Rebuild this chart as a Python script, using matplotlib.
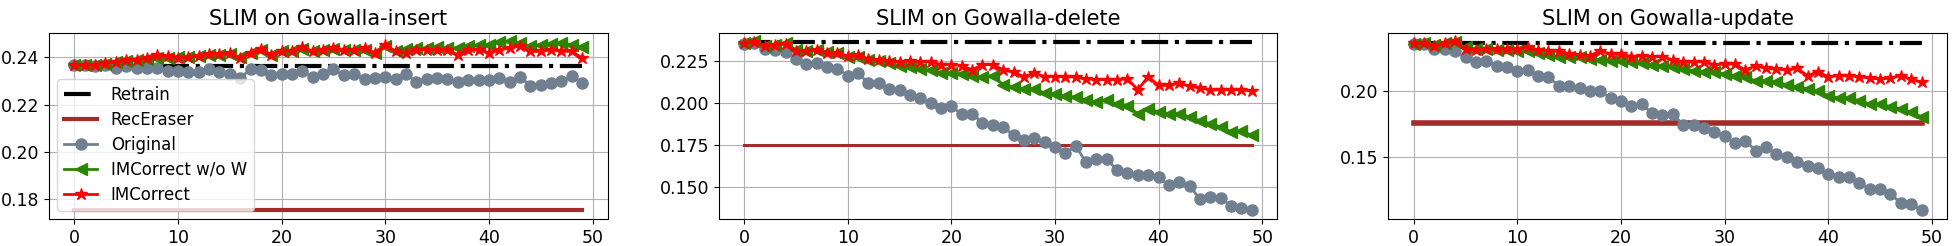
import numpy as np
import matplotlib
matplotlib.use('Agg')
from matplotlib import pyplot as plt

epochs = list(range(50))
titles = ['SLIM on Gowalla-insert', 'SLIM on Gowalla-delete', 'SLIM on Gowalla-update']

retrain = [0.2363, 0.2362, 0.2362]
receraser = [0.1753, 0.1754, 0.1755]

# insert
orig_ins = [0.2367, 0.2367, 0.2365, 0.2368, 0.2353, 0.2363, 0.2356, 0.2353, 0.2356, 0.2342,
            0.2340, 0.2338, 0.2339, 0.2349, 0.2339, 0.2331, 0.2313, 0.2349, 0.2345, 0.2324,
            0.2328, 0.2331, 0.2342, 0.2316, 0.2329, 0.2349, 0.2324, 0.2331, 0.2307, 0.2313,
            0.2318, 0.2307, 0.2331, 0.2296, 0.2310, 0.2313, 0.2307, 0.2296, 0.2302, 0.2302,
            0.2302, 0.2314, 0.2296, 0.2318, 0.2280, 0.2285, 0.2293, 0.2299, 0.2321, 0.2291]
wow_ins = [0.2367, 0.2368, 0.2368, 0.2372, 0.2379, 0.2383, 0.2388, 0.2393, 0.2396, 0.2397,
           0.2400, 0.2401, 0.2404, 0.2408, 0.2411, 0.2415, 0.2400, 0.2418, 0.2432, 0.2411,
           0.2425, 0.2428, 0.2435, 0.2425, 0.2432, 0.2436, 0.2429, 0.2429, 0.2432, 0.2418,
           0.2446, 0.2425, 0.2435, 0.2439, 0.2439, 0.2443, 0.2439, 0.2439, 0.2446, 0.2450,
           0.2453, 0.2463, 0.2467, 0.2460, 0.2446, 0.2453, 0.2457, 0.2460, 0.2453, 0.2442]
imc_ins = [0.2367, 0.2367, 0.2369, 0.2375, 0.2379, 0.2388, 0.2388, 0.2397, 0.2408, 0.2404,
           0.2397, 0.2401, 0.2404, 0.2415, 0.2414, 0.2418, 0.2397, 0.2418, 0.2435, 0.2411,
           0.2425, 0.2428, 0.2443, 0.2425, 0.2432, 0.2439, 0.2429, 0.2429, 0.2439, 0.2418,
           0.2453, 0.2425, 0.2418, 0.2432, 0.2432, 0.2432, 0.2432, 0.2411, 0.2432, 0.2432,
           0.2418, 0.2432, 0.2439, 0.2449, 0.2425, 0.2425, 0.2432, 0.2425, 0.2425, 0.2397]

# delete
orig_del = [0.2353, 0.2359, 0.2323, 0.2317, 0.2303, 0.2264, 0.2234, 0.2240, 0.2214, 0.2205,
            0.2165, 0.2179, 0.2120, 0.2120, 0.2086, 0.2076, 0.2051, 0.2031, 0.2001, 0.1974,
            0.1982, 0.1934, 0.1938, 0.1885, 0.1869, 0.1859, 0.1810, 0.1784, 0.1796, 0.1770,
            0.1741, 0.1702, 0.1747, 0.1648, 0.1668, 0.1666, 0.1603, 0.1587, 0.1571, 0.1573,
            0.1559, 0.1512, 0.1530, 0.1508, 0.1429, 0.1445, 0.1435, 0.1390, 0.1376, 0.1362]
wow_del = [0.2359, 0.2368, 0.2343, 0.2347, 0.2357, 0.2317, 0.2313, 0.2317, 0.2303, 0.2297,
           0.2274, 0.2278, 0.2258, 0.2250, 0.2238, 0.2224, 0.2218, 0.2205, 0.2195, 0.2179,
           0.2179, 0.2175, 0.2165, 0.2155, 0.2165, 0.2110, 0.2096, 0.2086, 0.2086, 0.2061,
           0.2053, 0.2041, 0.2037, 0.2017, 0.2007, 0.2021, 0.1993, 0.1982, 0.1938, 0.1968,
           0.1948, 0.1938, 0.1938, 0.1918, 0.1895, 0.1879, 0.1859, 0.1830, 0.1834, 0.1810]
imc_del = [0.2359, 0.2362, 0.2343, 0.2349, 0.2353, 0.2309, 0.2313, 0.2319, 0.2297, 0.2297,
           0.2280, 0.2287, 0.2264, 0.2258, 0.2254, 0.2244, 0.2254, 0.2248, 0.2248, 0.2230,
           0.2230, 0.2224, 0.2199, 0.2230, 0.2230, 0.2199, 0.2185, 0.2159, 0.2179, 0.2159,
           0.2159, 0.2159, 0.2155, 0.2145, 0.2141, 0.2141, 0.2141, 0.2145, 0.2080, 0.2159,
           0.2106, 0.2106, 0.2120, 0.2100, 0.2092, 0.2080, 0.2080, 0.2080, 0.2080, 0.2072]

# update
orig_upd = [0.2354, 0.2354, 0.2316, 0.2316, 0.2298, 0.2253, 0.2215, 0.2227, 0.2189, 0.2182,
            0.2146, 0.2157, 0.2114, 0.2101, 0.2038, 0.2038, 0.2020, 0.2000, 0.2000, 0.1942,
            0.1924, 0.1886, 0.1899, 0.1828, 0.1818, 0.1823, 0.1740, 0.1740, 0.1717, 0.1684,
            0.1659, 0.1601, 0.1621, 0.1545, 0.1571, 0.1520, 0.1495, 0.1462, 0.1432, 0.1412,
            0.1369, 0.1343, 0.1348, 0.1298, 0.1255, 0.1255, 0.1217, 0.1146, 0.1141, 0.1091]
wow_upd = [0.2354, 0.2361, 0.2348, 0.2359, 0.2366, 0.2328, 0.2316, 0.2316, 0.2308, 0.2308,
           0.2298, 0.2303, 0.2283, 0.2270, 0.2258, 0.2253, 0.2258, 0.2240, 0.2232, 0.2222,
           0.2222, 0.2215, 0.2207, 0.2197, 0.2189, 0.2177, 0.2164, 0.2152, 0.2139, 0.2139,
           0.2126, 0.2114, 0.2101, 0.2076, 0.2076, 0.2063, 0.2045, 0.2030, 0.2013, 0.1995,
           0.1962, 0.1944, 0.1944, 0.1924, 0.1899, 0.1899, 0.1879, 0.1861, 0.1836, 0.1803]
imc_upd = [0.2359, 0.2361, 0.2341, 0.2359, 0.2374, 0.2316, 0.2308, 0.2316, 0.2316, 0.2316,
           0.2316, 0.2328, 0.2308, 0.2303, 0.2298, 0.2278, 0.2273, 0.2265, 0.2303, 0.2278,
           0.2278, 0.2258, 0.2265, 0.2258, 0.2258, 0.2232, 0.2215, 0.2220, 0.2220, 0.2197,
           0.2202, 0.2202, 0.2157, 0.2189, 0.2169, 0.2164, 0.2157, 0.2169, 0.2114, 0.2144,
           0.2106, 0.2114, 0.2114, 0.2106, 0.2096, 0.2088, 0.2096, 0.2114, 0.2088, 0.2063]

originals = [orig_ins, orig_del, orig_upd]
wows = [wow_ins, wow_del, wow_upd]
imcs = [imc_ins, imc_del, imc_upd]
rec_lw = [3, 2.2, 4]

fig, axes = plt.subplots(1, 3, figsize=(19.52, 2.46), dpi=100)
plt.subplots_adjust(left=0.0251, right=0.9974, top=0.866, bottom=0.110, wspace=0.199)

for i, ax in enumerate(axes):
    ax.plot(epochs, [retrain[i]] * 50, color='black', linestyle='-.', linewidth=3, label='Retrain')
    ax.plot(epochs, [receraser[i]] * 50, color='#a52a2a', linewidth=rec_lw[i], label='RecEraser')
    ax.plot(epochs, originals[i], color='slategray', marker='o', markersize=8, linewidth=2, label='Original')
    ax.plot(epochs, wows[i], color='#2b8500', marker='<', markersize=9, linewidth=2, label='IMCorrect w/o W')
    ax.plot(epochs, imcs[i], color='red', marker='*', markersize=9, linewidth=2, label='IMCorrect')
    ax.set_title(titles[i], fontsize=15)
    ax.tick_params(labelsize=12.5)
    ax.grid(True)

axes[1].set_yticks([0.150, 0.175, 0.200, 0.225])
axes[1].set_yticklabels(['0.150', '0.175', '0.200', '0.225'])
axes[2].set_yticks([0.15, 0.20])

axes[0].legend(loc='lower left', fontsize=12, labelspacing=0.42)

plt.savefig('out.png', dpi=100)
